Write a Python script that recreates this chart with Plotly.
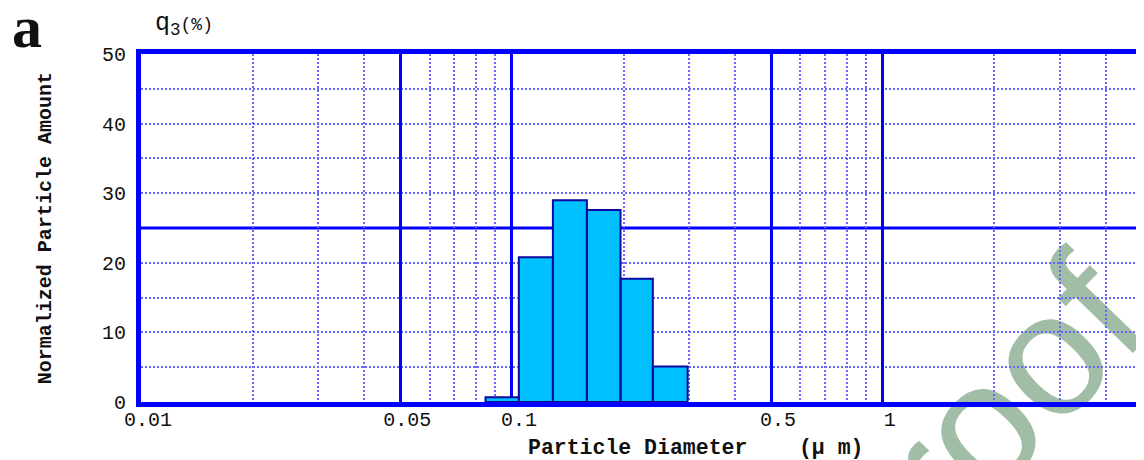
import math
import plotly.graph_objects as go

# ---------------- data ----------------
bin_edges = [0.0849, 0.1044, 0.1290, 0.1593, 0.1963, 0.2399, 0.2977]   # particle diameter (µm)
q3_values = [0.7, 20.8, 29.0, 27.6, 17.7, 5.1]                          # q3 (%)

x_tick_vals = [0.01, 0.05, 0.1, 0.5, 1, 5]
x_tick_text = ["0.01", "0.05", "0.1", "0.5", "1", "5"]
x_minor_vals = [0.02, 0.03, 0.04, 0.06, 0.07, 0.08, 0.09,
                0.2, 0.3, 0.4, 0.6, 0.7, 0.8, 0.9, 2, 3, 4]
y_tick_vals = [0, 10, 20, 30, 40, 50]
y_tick_text = ["0", "10", "20", "30", "40", "50"]
y_minor_vals = [5, 10, 15, 20, 30, 35, 40, 45]
y_major_grid = [25]

# ---------------- layout geometry ----------------
# the page body has an 8px margin, so the figure is sized to end at the window edge
OFF = 8
W, H = 1144 - OFF, 460 - OFF
PLOT_L, PLOT_R, PLOT_T, PLOT_B = 141, 1142, 54, 401.7     # target page pixels
L = PLOT_L - OFF
R = W - (PLOT_R - OFF)
T = PLOT_T - OFF
B = H - (PLOT_B - OFF)
PW, PH = W - L - R, H - T - B


def px2x(px):
    return (px - PLOT_L) / PW


def py2y(py):
    return (PLOT_B - py) / PH


BLUE = "#0000FF"
DOT = "#6868FF"
MONO = "Liberation Mono, Courier New, monospace"

# bar polygons built from the bin data
xs, ys = [], []
for lo, hi, v in zip(bin_edges[:-1], bin_edges[1:], q3_values):
    xs += [lo, lo, hi, hi, lo, None]
    ys += [0, v, v, 0, 0, None]

fig = go.Figure()
fig.add_trace(go.Scatter(
    x=xs, y=ys, mode="lines", fill="toself",
    fillcolor="#00BFFF", line=dict(color="#0A0AA0", width=2),
    hoverinfo="skip", showlegend=False,
))

shapes = []
# watermark, drawn beneath the gridlines
wx, wy = px2x(634), py2y(759)
shapes.append(dict(
    type="line", xref="paper", yref="paper",
    x0=wx - 0.001, x1=wx + 0.001, y0=wy, y1=wy,
    line=dict(width=0, color="rgba(0,0,0,0)"), layer="below",
    label=dict(text="Journal Pre-proof", textangle=-46, textposition="middle",
               xanchor="center", yanchor="middle", padding=0,
               font=dict(family="Liberation Sans, Arial, sans-serif", size=174,
                         color="#A2BDA5")),
))
for yv in y_major_grid:
    shapes.append(dict(type="line", xref="paper", yref="y", x0=0, x1=1, y0=yv, y1=yv,
                       line=dict(color=BLUE, width=3), layer="between"))
# right border (thin)
shapes.append(dict(type="line", xref="paper", yref="paper", x0=1 - 1.3 / PW, x1=1 - 1.3 / PW,
                   y0=0, y1=1, line=dict(color="#3030FF", width=2), layer="above"))

annotations = [
    dict(text="<b>a</b>", xref="paper", yref="paper", x=px2x(10), y=py2y(27),
         xanchor="left", yanchor="middle", showarrow=False,
         font=dict(family="Liberation Serif, Times New Roman, serif", size=60, color="#111")),
    dict(text="q<sub>3</sub><span style='font-size:18px'>(%)</span>", xref="paper", yref="paper",
         x=px2x(153), y=py2y(25), xanchor="left", yanchor="middle", showarrow=False,
         font=dict(family=MONO, size=25, color="#111")),
    dict(text="<b>Particle Diameter    (µ m)</b>", xref="paper", yref="paper",
         x=px2x(695), y=py2y(448), xanchor="center", yanchor="middle", showarrow=False,
         font=dict(family=MONO, size=21.5, color="#111")),
    dict(text="<b>Normalized Particle Amount</b>", xref="paper", yref="paper",
         x=px2x(45), y=py2y(228), xanchor="center", yanchor="middle", showarrow=False,
         textangle=-90, font=dict(family=MONO, size=20, color="#111")),
]

fig.update_layout(
    width=W, height=H,
    margin=dict(l=L, r=R, t=T, b=B, pad=0),
    paper_bgcolor="white", plot_bgcolor="rgba(0,0,0,0)",
    showlegend=False,
    shapes=shapes,
    annotations=annotations,
    xaxis=dict(
        type="log", range=[-2, math.log10(5)],
        tickmode="array", tickvals=x_tick_vals, ticktext=x_tick_text,
        ticks="", ticklabelstandoff=-5, ticklabelshift=7,
        tickfont=dict(family=MONO, size=20, color="#111"),
        showgrid=True, gridcolor=BLUE, gridwidth=3,
        minor=dict(tickvals=x_minor_vals, showgrid=True, gridcolor=DOT,
                   gridwidth=1.5, griddash="2px,2px", ticks=""),
        showline=True, linecolor=BLUE, linewidth=5, mirror=True,
        zeroline=False, fixedrange=True,
    ),
    yaxis=dict(
        range=[0, 50],
        tickmode="array", tickvals=y_tick_vals, ticktext=y_tick_text,
        ticks="", ticklabelstandoff=6,
        tickfont=dict(family=MONO, size=20, color="#111"),
        showgrid=False,
        minor=dict(tickvals=y_minor_vals, showgrid=True, gridcolor=DOT,
                   gridwidth=1.5, griddash="2px,2px", ticks=""),
        showline=True, linecolor=BLUE, linewidth=5, mirror=False,
        zeroline=False, fixedrange=True,
    ),
)

fig.write_html("out.html")
